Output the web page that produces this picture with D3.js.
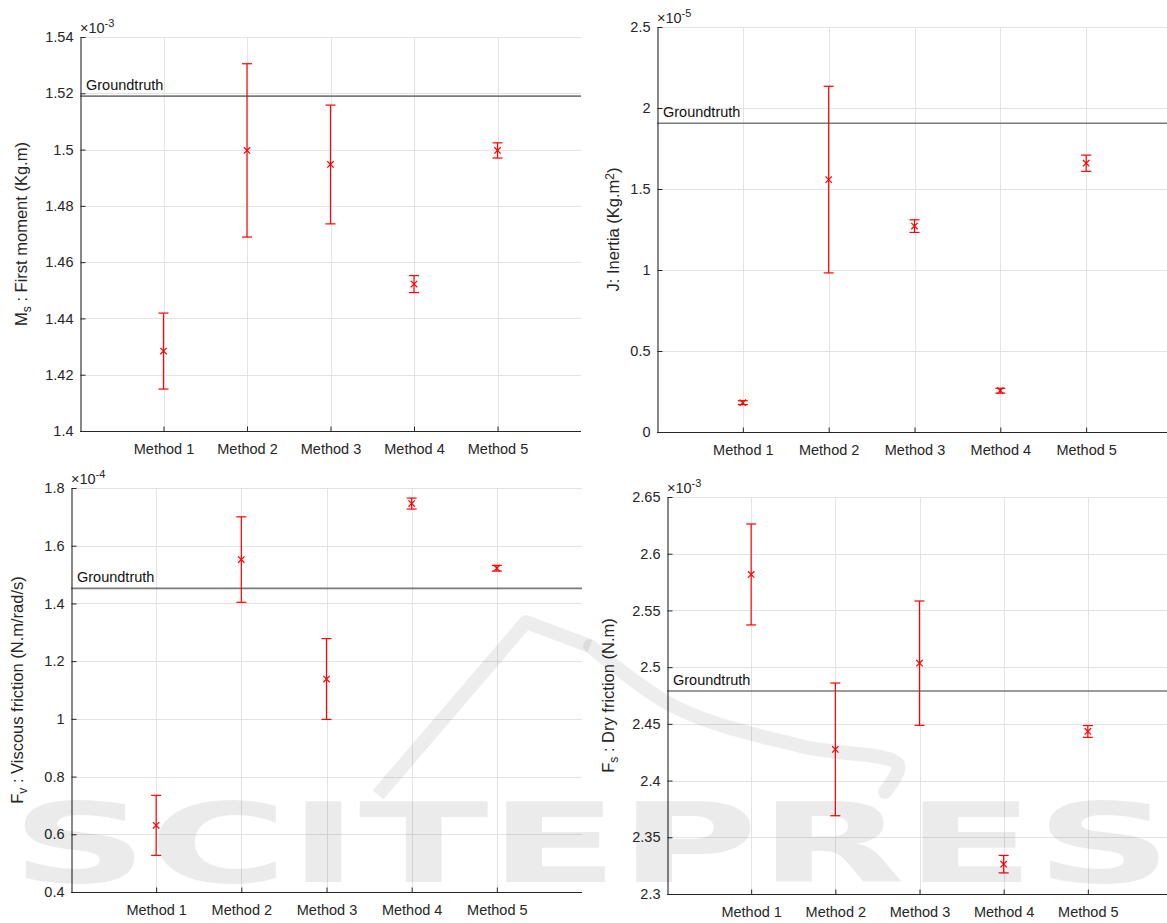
<!DOCTYPE html>
<html>
<head>
<meta charset="utf-8">
<script src="https://cdn.jsdelivr.net/npm/d3@7"></script>
<style>
  body { margin: 0; background: #fff; }
  svg { display: block; font-family: "Liberation Sans", Arial, sans-serif; }
</style>
</head>
<body>
<svg id="chart" width="1167" height="923"></svg>
<script>
// categories
const methods = ["Method 1", "Method 2", "Method 3", "Method 4", "Method 5"];

// first moment Ms (x1e-3 Kg.m)
const firstMomentMean = [1.4284, 1.4997, 1.4947, 1.4522, 1.4997];
const firstMomentErr = [0.0135, 0.0308, 0.0211, 0.0030, 0.0027];
const firstMomentTruth = 1.519;
const firstMomentTicks = [1.4, 1.42, 1.44, 1.46, 1.48, 1.5, 1.52, 1.54];

// inertia J (x1e-5 Kg.m^2)
const inertiaMean = [0.181, 1.558, 1.271, 0.255, 1.659];
const inertiaErr = [0.012, 0.576, 0.039, 0.015, 0.050];
const inertiaTruth = 1.906;
const inertiaTicks = [0, 0.5, 1, 1.5, 2, 2.5];

// viscous friction Fv (x1e-4 N.m/rad/s)
const viscousMean = [0.631, 1.552, 1.138, 1.746, 1.522];
const viscousErr = [0.104, 0.148, 0.140, 0.019, 0.010];
const viscousTruth = 1.452;
const viscousTicks = [0.4, 0.6, 0.8, 1, 1.2, 1.4, 1.6, 1.8];

// dry friction Fs (x1e-3 N.m)
const dryMean = [2.5817, 2.4275, 2.5035, 2.3263, 2.4433];
const dryErr = [0.0445, 0.0585, 0.0548, 0.0077, 0.0052];
const dryTruth = 2.479;
const dryTicks = [2.3, 2.35, 2.4, 2.45, 2.5, 2.55, 2.6, 2.65];

const svg = d3.select("#chart");
svg.append("rect").attr("width", 1167).attr("height", 923).attr("fill", "#fff");

const panels = [
  { box: { left: 80, right: 581, top: 37, bottom: 431 }, ticks: firstMomentTicks,
    mean: firstMomentMean, err: firstMomentErr, truth: firstMomentTruth, exp: "-3",
    labelX: 26.5, label: [["M", ""], ["s", "sub"], [" : First moment (Kg.m)", ""]] },
  { box: { left: 657, right: 1172, top: 27, bottom: 432 }, ticks: inertiaTicks,
    mean: inertiaMean, err: inertiaErr, truth: inertiaTruth, exp: "-5",
    labelX: 618.5, label: [["J: Inertia (Kg.m", ""], ["2", "sup"], [")", ""]] },
  { box: { left: 71, right: 582, top: 488, bottom: 892 }, ticks: viscousTicks,
    mean: viscousMean, err: viscousErr, truth: viscousTruth, exp: "-4",
    labelX: 23, label: [["F", ""], ["v", "sub"], [" : Viscous friction (N.m/rad/s)", ""]] },
  { box: { left: 667, right: 1172, top: 497, bottom: 894 }, ticks: dryTicks,
    mean: dryMean, err: dryErr, truth: dryTruth, exp: "-3",
    labelX: 614, label: [["F", ""], ["s", "sub"], [" : Dry friction (N.m)", ""]] }
];

const axisColor = "#262626";
const gridColor = "#e3e3e3";
const red = "#ff0000";
const fontSize = 14.5;

function drawPanel(p) {
  const b = p.box;
  const x = d3.scaleLinear().domain([0, 6]).range([b.left, b.right]);
  const y = d3.scaleLinear().domain(d3.extent(p.ticks)).range([b.bottom, b.top]);
  const g = svg.append("g");

  // grid
  g.append("g").selectAll("line.hg").data(p.ticks).join("line")
    .attr("x1", b.left).attr("x2", b.right)
    .attr("y1", d => Math.round(y(d)) + 0.5).attr("y2", d => Math.round(y(d)) + 0.5)
    .attr("stroke", gridColor).attr("stroke-width", 1);
  g.append("g").selectAll("line.vg").data(d3.range(1, methods.length + 1)).join("line")
    .attr("x1", d => Math.round(x(d)) + 0.5).attr("x2", d => Math.round(x(d)) + 0.5)
    .attr("y1", b.top).attr("y2", b.bottom)
    .attr("stroke", gridColor).attr("stroke-width", 1);

  // groundtruth line + text
  g.append("line")
    .attr("x1", b.left).attr("x2", b.right)
    .attr("y1", y(p.truth)).attr("y2", y(p.truth))
    .attr("stroke", "#7a7a7a").attr("stroke-width", 1.6);
  g.append("text")
    .attr("x", b.left + 6).attr("y", y(p.truth) - 6)
    .attr("font-size", fontSize).attr("fill", "#111")
    .text("Groundtruth");

  // axes (ticks pointing inward)
  const yAxis = d3.axisLeft(y).tickValues(p.ticks).tickFormat(d3.format("~g"))
    .tickSizeInner(-5).tickSizeOuter(0).tickPadding(7);
  const ya = g.append("g").attr("transform", `translate(${b.left + 0.5},0)`).call(yAxis);
  const xAxis = d3.axisBottom(x).tickValues(d3.range(1, methods.length + 1))
    .tickFormat(d => methods[d - 1]).tickSizeInner(-5).tickSizeOuter(0).tickPadding(12);
  const xa = g.append("g").attr("transform", `translate(0,${b.bottom + 0.5})`).call(xAxis);
  [ya, xa].forEach(a => {
    a.select(".domain").attr("stroke", axisColor).attr("stroke-width", 1.1);
    a.selectAll(".tick line").attr("stroke", axisColor);
    a.selectAll(".tick text").attr("fill", "#262626")
      .attr("font-size", fontSize).attr("font-family", "Liberation Sans, Arial, sans-serif");
  });
  // x axis spans the full box
  xa.select(".domain").attr("d", `M${b.left},0H${b.right}`);

  // exponent label
  const ex = g.append("text").attr("x", b.left).attr("y", b.top - 4)
    .attr("font-size", fontSize).attr("fill", "#262626");
  ex.append("tspan").text("\u00d710");
  ex.append("tspan").attr("dy", -6).attr("font-size", 11).text(p.exp);

  // y label
  const yl = g.append("text")
    .attr("transform", `translate(${p.labelX},${(b.top + b.bottom) / 2}) rotate(-90)`)
    .attr("text-anchor", "middle").attr("font-size", 16.5).attr("fill", "#262626");
  p.label.forEach(([t, kind]) => {
    const ts = yl.append("tspan").text(t);
    if (kind === "sub") ts.attr("font-size", 12).attr("baseline-shift", "-30%");
    if (kind === "sup") ts.attr("font-size", 12).attr("baseline-shift", "45%");
  });

  // error bars
  const rows = p.mean.map((m, i) => ({ i: i + 1, m, e: p.err[i] }));
  const eb = g.append("g").attr("stroke", red).attr("stroke-width", 1.2).attr("fill", "none");
  const bars = eb.selectAll("g").data(rows).join("g");
  bars.append("line")
    .attr("x1", d => x(d.i)).attr("x2", d => x(d.i))
    .attr("y1", d => y(d.m - d.e)).attr("y2", d => y(d.m + d.e));
  bars.append("line")
    .attr("x1", d => x(d.i) - 5).attr("x2", d => x(d.i) + 5)
    .attr("y1", d => y(d.m + d.e)).attr("y2", d => y(d.m + d.e));
  bars.append("line")
    .attr("x1", d => x(d.i) - 5).attr("x2", d => x(d.i) + 5)
    .attr("y1", d => y(d.m - d.e)).attr("y2", d => y(d.m - d.e));
  // x markers
  bars.append("path")
    .attr("d", d => {
      const cx = x(d.i), cy = y(d.m), s = 3.2;
      return `M${cx - s},${cy - s}L${cx + s},${cy + s}M${cx - s},${cy + s}L${cx + s},${cy - s}`;
    });
}

panels.forEach(drawPanel);

// publisher watermark over the lower half
const wm = svg.append("g").attr("pointer-events", "none");
wm.append("text")
  .attr("x", 11).attr("y", 882)
  .attr("font-family", "DejaVu Sans, sans-serif").attr("font-weight", "bold")
  .attr("font-size", 110).attr("textLength", 1290).attr("lengthAdjust", "spacingAndGlyphs")
  .attr("fill", "#000").attr("fill-opacity", 0.08)
  .text("SCITEPRESS");
// logo strokes: straight chevron, then a gentle arc with a hook
const chevron = [[378, 795], [526, 622], [590, 646]];
const arc = [[590, 646], [677, 708], [805, 747], [898, 765], [885, 792]];
wm.append("path")
  .attr("d", d3.line()(chevron))
  .attr("fill", "none").attr("stroke", "#000").attr("stroke-opacity", 0.07)
  .attr("stroke-width", 14).attr("stroke-linejoin", "round");
wm.append("path")
  .attr("d", d3.line().curve(d3.curveCatmullRom)(arc))
  .attr("fill", "none").attr("stroke", "#000").attr("stroke-opacity", 0.07)
  .attr("stroke-width", 14).attr("stroke-linecap", "round");
</script>
</body>
</html>
